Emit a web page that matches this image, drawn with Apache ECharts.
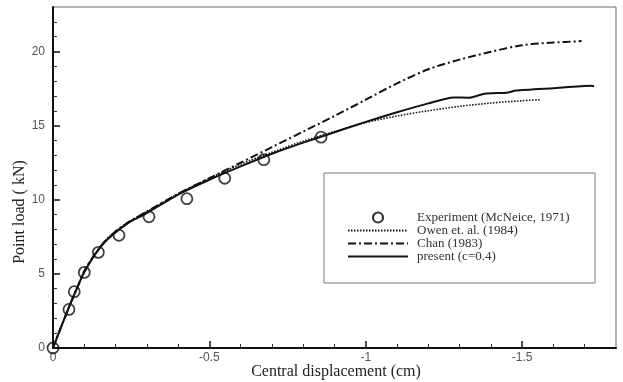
<!DOCTYPE html>
<html>
<head>
<meta charset="utf-8">
<script src="https://cdn.jsdelivr.net/npm/echarts@6/dist/echarts.min.js"></script>
<style>html,body{margin:0;padding:0;background:#fff;}#c{width:623px;height:382px;}</style>
</head>
<body>
<div id="c"></div>
<script>
// Data (displacement in cm, load in kN)
const experiment = [[0,0],[-0.051,2.6],[-0.068,3.8],[-0.10,5.1],[-0.145,6.45],[-0.211,7.6],[-0.307,8.85],[-0.428,10.07],[-0.549,11.45],[-0.674,12.7],[-0.857,14.22]];
const owen = [[0,0],[-0.02,1.1],[-0.05,2.7],[-0.08,4.2],[-0.1,5.2],[-0.125,6.05],[-0.15,6.8],[-0.175,7.4],[-0.2,7.85],[-0.225,8.25],[-0.25,8.6],[-0.3,9.2],[-0.4,10.4],[-0.5,11.45],[-0.6,12.4],[-0.7,13.2],[-0.8,13.95],[-0.9,14.6],[-1.0,15.2],[-1.1,15.65],[-1.2,16.0],[-1.3,16.3],[-1.4,16.52],[-1.5,16.68],[-1.56,16.75]];
const chan = [[0,0],[-0.02,1.1],[-0.05,2.7],[-0.08,4.2],[-0.1,5.2],[-0.125,6.05],[-0.15,6.8],[-0.175,7.4],[-0.2,7.85],[-0.225,8.25],[-0.25,8.6],[-0.3,9.2],[-0.4,10.4],[-0.5,11.45],[-0.6,12.5],[-0.7,13.55],[-0.8,14.6],[-0.9,15.65],[-1.0,16.75],[-1.1,17.85],[-1.2,18.8],[-1.3,19.45],[-1.4,19.98],[-1.5,20.42],[-1.6,20.6],[-1.69,20.7]];
const present = [[0,0],[-0.02,1.1],[-0.05,2.7],[-0.08,4.2],[-0.1,5.1],[-0.125,6.0],[-0.15,6.75],[-0.175,7.35],[-0.2,7.8],[-0.225,8.2],[-0.25,8.55],[-0.3,9.1],[-0.4,10.35],[-0.5,11.35],[-0.6,12.25],[-0.7,13.1],[-0.8,13.85],[-0.9,14.55],[-1.0,15.25],[-1.1,15.9],[-1.2,16.5],[-1.28,16.9],[-1.33,16.88],[-1.38,17.15],[-1.45,17.22],[-1.48,17.36],[-1.6,17.52],[-1.72,17.68],[-1.73,17.65]];
const xMajorTicks = [0,-0.5,-1,-1.5];
const xMinorTicks = [-0.1,-0.2,-0.3,-0.4,-0.6,-0.7,-0.8,-0.9,-1.1,-1.2,-1.3,-1.4,-1.6,-1.7];
const yMajorTicks = [0,5,10,15,20];
const yMinorTicks = [1,2,3,4,6,7,8,9,11,12,13,14,16,17,18,19,21,22];
const names = ['Experiment (McNeice, 1971)','Owen et. al. (1984)','Chan (1983)','present (c=0.4)'];
const xTitle = 'Central displacement (cm)';
const yTitle = 'Point load ( kN)';

const chart = echarts.init(document.getElementById('c'), null, {renderer:'canvas'});
const labelStyle = {fontFamily:'Liberation Sans', fontSize:12, color:'#555'};
const hideSym = {opacity:0};
chart.setOption({
  animation:false,
  backgroundColor:'#fff',
  grid:{left:53, right:7, top:7, bottom:34, show:true, borderColor:'#666', borderWidth:1, backgroundColor:'transparent', containLabel:false, outerBoundsMode:'none'},
  xAxis:[{
    type:'value', min:-1.8, max:0, inverse:true, position:'bottom',
    axisLine:{show:true, onZero:false, lineStyle:{color:'#111', width:2}},
    axisTick:{show:true, inside:true, length:7, customValues:xMajorTicks, lineStyle:{color:'#111', width:1.5}},
    axisLabel:{show:true, margin:4, customValues:xMajorTicks, ...labelStyle},
    splitLine:{show:false}
  },{
    type:'value', min:-1.8, max:0, inverse:true, position:'bottom',
    axisLine:{show:false},
    axisTick:{show:true, inside:true, length:4, customValues:xMinorTicks, lineStyle:{color:'#333', width:1}},
    axisLabel:{show:false}, splitLine:{show:false}
  }],
  yAxis:[{
    type:'value', min:0, max:23, position:'left',
    axisLine:{show:true, onZero:false, lineStyle:{color:'#111', width:2}},
    axisTick:{show:true, inside:true, length:7, customValues:yMajorTicks, lineStyle:{color:'#111', width:1.5}},
    axisLabel:{show:true, margin:8, customValues:yMajorTicks, ...labelStyle},
    splitLine:{show:false}
  },{
    type:'value', min:0, max:23, position:'left',
    axisLine:{show:false},
    axisTick:{show:true, inside:true, length:4, customValues:yMinorTicks, lineStyle:{color:'#333', width:1}},
    axisLabel:{show:false}, splitLine:{show:false}
  }],
  legend:{
    orient:'vertical', left:342, top:206, itemWidth:60, itemHeight:10, itemGap:0,
    textStyle:{fontFamily:'Liberation Serif', fontSize:13, lineHeight:12, color:'#333', padding:[0,0,0,4]},
    data:[
      {name:names[0], icon:'circle', itemStyle:{color:'rgba(0,0,0,0)', borderColor:'#000', borderWidth:2.2}},
      {name:names[1], itemStyle:hideSym},
      {name:names[2], itemStyle:hideSym},
      {name:names[3], itemStyle:hideSym}
    ]
  },
  graphic:[
    {type:'rect', shape:{x:324, y:173, width:271, height:110}, style:{fill:'none', stroke:'#777', lineWidth:1}, z:0},
    {type:'text', x:20, y:212, rotation:Math.PI/2, style:{text:yTitle, fontFamily:'Liberation Serif', fontSize:16, fill:'#222', textAlign:'center', textVerticalAlign:'middle'}},
    {type:'text', x:336, y:372, style:{text:xTitle, fontFamily:'Liberation Serif', fontSize:16, fill:'#222', textAlign:'center', textVerticalAlign:'middle'}}
  ],
  series:[
    {name:names[1], type:'line', data:owen, showSymbol:false, symbol:'none', smooth:0.3,
      itemStyle:{color:'#111'}, lineStyle:{color:'#111', width:1.6, type:[1.5,1.5]}, z:2},
    {name:names[2], type:'line', data:chan, showSymbol:false, symbol:'none', smooth:0.3,
      itemStyle:{color:'#111'}, lineStyle:{color:'#111', width:2, type:[8,3,2,3]}, z:2},
    {name:names[3], type:'line', data:present, showSymbol:false, symbol:'none', smooth:0.2,
      itemStyle:{color:'#111'}, lineStyle:{color:'#111', width:2}, z:3},
    {name:names[0], type:'scatter', data:experiment, symbol:'circle', symbolSize:11,
      itemStyle:{color:'rgba(0,0,0,0)', borderColor:'#111', borderWidth:1.8}, z:4}
  ]
});
</script>
</body>
</html>
